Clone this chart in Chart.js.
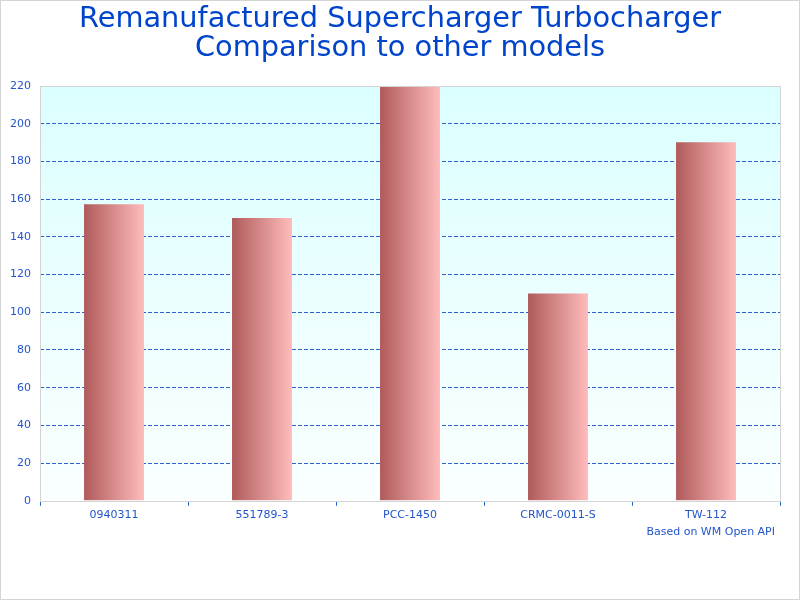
<!DOCTYPE html>
<html>
<head>
<meta charset="utf-8">
<script src="https://cdn.jsdelivr.net/npm/chart.js@4/dist/chart.umd.min.js"></script>
<style>
  html, body { margin: 0; padding: 0; background: #fff; }
  canvas { display: block; }
</style>
</head>
<body>
<canvas id="chart" width="800" height="600"></canvas>
<script>
// data
const models = ["0940311", "551789-3", "PCC-1450", "CRMC-0011-S", "TW-112"];
const prices = [157.3, 150, 219.6, 110, 190.2];
const titleLines = ["Remanufactured Supercharger Turbocharger", "Comparison to other models"];
const sourceNote = "Based on WM Open API";
const yMax = 220;

const blue = "#2255cc";

// bar fill: left-to-right red gradient per bar
function barFill(context) {
  const chart = context.chart;
  const area = chart.chartArea;
  if (!area || !chart.scales.x) return "#d88c8c";
  const cx = chart.scales.x.getPixelForValue(context.dataIndex);
  const half = (area.width / models.length) * 0.405 / 2;
  const g = chart.ctx.createLinearGradient(cx - half, 0, cx + half, 0);
  g.addColorStop(0, "#b05a5a");
  g.addColorStop(1, "#ffbcbc");
  return g;
}

// plot background, plot frame, outer frame and source note
const framePlugin = {
  id: "frame",
  beforeDraw(chart) {
    const { ctx, chartArea: a } = chart;
    ctx.save();
    const g = ctx.createLinearGradient(0, a.top, 0, a.bottom);
    g.addColorStop(0, "#dbffff");
    g.addColorStop(1, "#fafffe");
    ctx.fillStyle = g;
    ctx.fillRect(a.left, a.top, a.right - a.left, a.bottom - a.top);
    ctx.restore();
  },
  afterDraw(chart) {
    const { ctx, chartArea: a } = chart;
    ctx.save();
    ctx.strokeStyle = "#d4d4d4";
    ctx.lineWidth = 1;
    ctx.strokeRect(Math.round(a.left) + 0.5, Math.round(a.top) + 0.5,
      Math.round(a.right - a.left), Math.round(a.bottom - a.top));
    ctx.strokeRect(0.5, 0.5, chart.width - 1, chart.height - 1);
    ctx.fillStyle = blue;
    ctx.font = "11px 'DejaVu Sans'";
    ctx.textAlign = "right";
    ctx.textBaseline = "middle";
    ctx.fillText(sourceNote, a.right - 5, a.bottom + 31);
    ctx.restore();
  }
};

new Chart(document.getElementById("chart"), {
  type: "bar",
  data: {
    labels: models,
    datasets: [{
      data: prices,
      backgroundColor: barFill,
      borderWidth: 0,
      barPercentage: 0.405,
      categoryPercentage: 1
    }]
  },
  options: {
    responsive: false,
    animation: false,
    devicePixelRatio: 1,
    layout: { padding: { left: 0, right: 0, top: 0, bottom: 75 } },
    plugins: {
      legend: { display: false },
      tooltip: { enabled: false },
      title: {
        display: true,
        text: titleLines,
        color: "#0044cc",
        font: { family: "DejaVu Sans", size: 28.8, weight: "normal", lineHeight: 1.0 },
        padding: { top: 5, bottom: 23.4 }
      }
    },
    scales: {
      x: {
        grid: {
          offset: true,
          drawOnChartArea: false,
          drawTicks: true,
          tickLength: 5,
          color: "#1a66cc"
        },
        border: { display: false },
        ticks: {
          color: blue,
          padding: 3,
          maxRotation: 0,
          font: { family: "DejaVu Sans", size: 11 }
        }
      },
      y: {
        min: 0,
        max: yMax,
        afterFit(scale) { scale.width = 40; },
        grid: {
          drawTicks: false,
          color: (c) => (c.tick && (c.tick.value === 0 || c.tick.value === yMax)) ? "rgba(0,0,0,0)" : "#3060d0",
          lineWidth: 1
        },
        border: { display: false, dash: [4, 2] },
        ticks: {
          stepSize: 20,
          color: blue,
          padding: 9,
          font: { family: "DejaVu Sans", size: 11 }
        }
      },
      // empty right margin so the title stays centred on the page
      yRight: {
        position: "right",
        afterFit(scale) { scale.width = 20; },
        grid: { display: false },
        border: { display: false },
        ticks: { display: false }
      }
    }
  },
  plugins: [framePlugin]
});
</script>
</body>
</html>
